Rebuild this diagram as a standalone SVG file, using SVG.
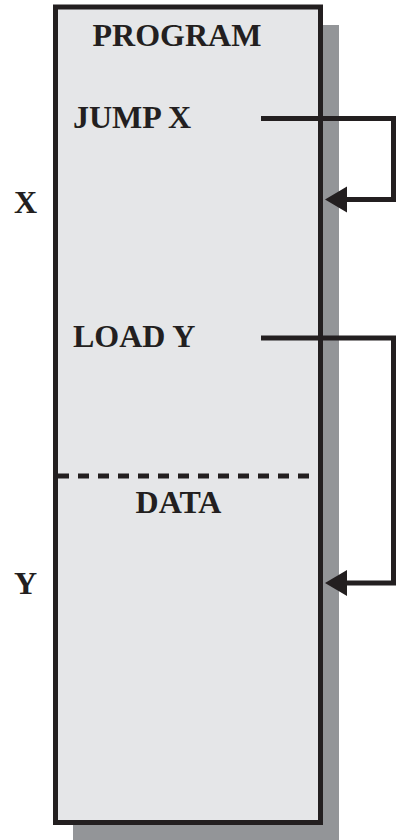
<svg xmlns="http://www.w3.org/2000/svg" width="396" height="840" viewBox="0 0 396 840">
<style>
.t{font-family:"Liberation Serif","Times New Roman",serif;font-weight:bold;font-size:32px;fill:#231f20}
.ln{fill:none;stroke:#231f20;stroke-width:5}
</style>
<rect width="396" height="840" fill="#ffffff"/>
<g id="memory">
<rect x="73" y="25" width="266" height="815" fill="#939598"/>
<rect x="55.5" y="7" width="265" height="815.5" fill="#e5e6e8" stroke="#231f20" stroke-width="5"/>
<line x1="58" y1="476" x2="318" y2="476" stroke="#231f20" stroke-width="5" stroke-dasharray="11 9"/>
<text class="t" x="177" y="46" text-anchor="middle">PROGRAM</text>
<text class="t" x="178.5" y="513" text-anchor="middle">DATA</text>
</g>
<g id="jump"><text class="t" x="73" y="128">JUMP X</text></g>
<g id="load"><text class="t" x="73" y="347">LOAD Y</text></g>
<g id="labelX"><text class="t" x="14" y="213">X</text></g>
<g id="labelY"><text class="t" x="14" y="594">Y</text></g>
<g id="connectors">
<path class="ln" d="M261,118.5 H393.5 V199.5 H347"/>
<path d="M325,199.5 L347,186.5 L347,212.5 Z" fill="#231f20"/>
<path class="ln" d="M261,338 H393.5 V583 H347"/>
<path d="M325,583 L347,570 L347,596 Z" fill="#231f20"/>
</g>
</svg>
